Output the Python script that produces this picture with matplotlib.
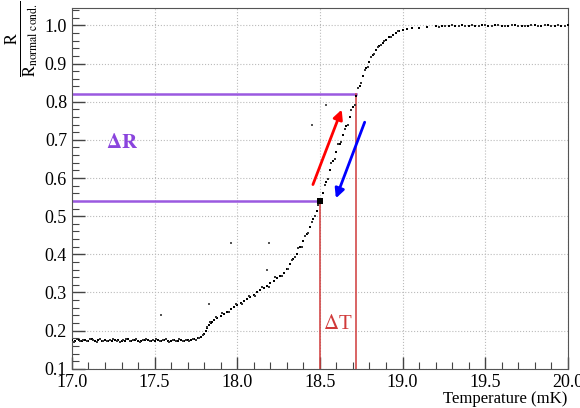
import matplotlib
matplotlib.use('Agg')
import matplotlib.pyplot as plt
from matplotlib.ticker import MultipleLocator

plt.rcParams['font.family'] = ['Liberation Serif', 'DejaVu Serif']
plt.rcParams['mathtext.fontset'] = 'stix'

# main sweep: low plateau, transition, upper plateau
temp_main = [17.00, 17.02, 17.04, 17.06, 17.08, 17.10, 17.12, 17.14, 17.16, 17.18,
             17.20, 17.22, 17.24, 17.26, 17.28, 17.30, 17.32, 17.34, 17.36, 17.38,
             17.40, 17.42, 17.44, 17.46, 17.48, 17.50, 17.52, 17.54, 17.56, 17.58,
             17.60, 17.62, 17.64, 17.66, 17.68, 17.70, 17.72, 17.74, 17.76,
             17.78, 17.80, 17.81, 17.82, 17.83, 17.84, 17.85, 17.86, 17.88, 17.90,
             17.92, 17.94, 17.96, 17.98, 18.00, 18.02, 18.04, 18.06, 18.08, 18.10,
             18.12, 18.14, 18.16, 18.18, 18.20, 18.22, 18.24, 18.26, 18.28, 18.30,
             18.32, 18.34, 18.36, 18.38, 18.40, 18.42, 18.44, 18.46, 18.48, 18.50,
             18.52, 18.54, 18.56, 18.58, 18.60, 18.62, 18.64, 18.66, 18.68, 18.70,
             18.72, 18.74, 18.76, 18.78, 18.80, 18.82, 18.84, 18.86, 18.88, 18.90,
             18.92, 18.94, 18.96, 18.98, 19.00, 19.03, 19.06, 19.10, 19.15, 19.20,
             19.24, 19.28, 19.32, 19.36, 19.40, 19.44, 19.48, 19.52, 19.56, 19.60,
             19.64, 19.68, 19.72, 19.76, 19.80, 19.84, 19.88, 19.92, 19.96, 20.00]
r_main = [0.175, 0.173, 0.176, 0.172, 0.175, 0.174, 0.177, 0.173, 0.175, 0.172,
          0.176, 0.174, 0.173, 0.176, 0.175, 0.172, 0.174, 0.177, 0.173, 0.175,
          0.174, 0.172, 0.176, 0.175, 0.173, 0.174, 0.176, 0.172, 0.175, 0.174,
          0.173, 0.176, 0.174, 0.175, 0.173, 0.176, 0.175, 0.178, 0.180,
          0.183, 0.192, 0.200, 0.208, 0.214, 0.220, 0.224, 0.228, 0.232, 0.238,
          0.244, 0.250, 0.256, 0.262, 0.268, 0.273, 0.278, 0.284, 0.289, 0.294,
          0.300, 0.306, 0.312, 0.318, 0.324, 0.330, 0.337, 0.344, 0.352, 0.362,
          0.374, 0.388, 0.402, 0.418, 0.434, 0.452, 0.472, 0.492, 0.514, 0.538,
          0.562, 0.590, 0.620, 0.645, 0.668, 0.690, 0.712, 0.736, 0.760, 0.786,
          0.814, 0.842, 0.866, 0.887, 0.905, 0.922, 0.935, 0.945, 0.954, 0.962,
          0.969, 0.975, 0.980, 0.984, 0.987, 0.990, 0.992, 0.994, 0.996, 0.997,
          0.998, 0.999, 0.998, 1.000, 0.999, 0.998, 1.000, 0.999, 1.000, 0.998,
          0.999, 1.000, 0.999, 0.998, 1.000, 0.999, 1.000, 0.999, 0.998, 1.000]

# second sweep (spread of the band)
temp_band = [17.01, 17.03, 17.05, 17.07, 17.09, 17.11, 17.13, 17.15, 17.17, 17.19,
             17.21, 17.23, 17.25, 17.27, 17.29, 17.31, 17.33, 17.35, 17.37, 17.39,
             17.41, 17.43, 17.45, 17.47, 17.49, 17.51, 17.53, 17.55, 17.57, 17.59,
             17.61, 17.63, 17.65, 17.67, 17.69, 17.71, 17.73, 17.75, 17.77,
             17.79, 17.815, 17.835, 17.87, 17.91, 17.95, 17.99, 18.03, 18.07, 18.11,
             18.15, 18.19, 18.23, 18.27, 18.31, 18.33, 18.35, 18.37, 18.39, 18.41,
             18.43, 18.45, 18.47, 18.49, 18.51, 18.53, 18.55, 18.57, 18.59, 18.61,
             18.63, 18.65, 18.67, 18.69, 18.71, 18.73, 18.75, 18.77, 18.79, 18.81,
             18.83, 18.85, 18.87, 18.89, 18.93, 18.97,
             19.22, 19.26, 19.30, 19.34, 19.38, 19.42, 19.46, 19.50, 19.54, 19.58,
             19.62, 19.66, 19.70, 19.74, 19.78, 19.82, 19.86, 19.90, 19.94, 19.98]
r_band = [0.171, 0.177, 0.174, 0.176, 0.172, 0.178, 0.175, 0.171, 0.177, 0.174,
          0.172, 0.176, 0.178, 0.173, 0.171, 0.176, 0.178, 0.172, 0.175, 0.177,
          0.171, 0.175, 0.178, 0.172, 0.176, 0.177, 0.173, 0.175, 0.178, 0.171,
          0.176, 0.172, 0.177, 0.173, 0.176, 0.172, 0.179, 0.176, 0.182,
          0.188, 0.210, 0.222, 0.235, 0.246, 0.250, 0.270, 0.271, 0.292, 0.290,
          0.315, 0.314, 0.340, 0.342, 0.362, 0.385, 0.392, 0.416, 0.420, 0.448,
          0.456, 0.486, 0.500, 0.530, 0.545, 0.582, 0.598, 0.640, 0.650, 0.688,
          0.695, 0.728, 0.740, 0.778, 0.792, 0.835, 0.848, 0.882, 0.890, 0.918,
          0.925, 0.944, 0.948, 0.960, 0.970, 0.984,
          0.996, 0.998, 1.000, 0.997, 0.999, 1.001, 0.998, 1.000, 0.999, 1.001,
          0.998, 1.000, 0.997, 0.999, 1.001, 0.998, 1.000, 0.999, 1.001, 0.999]

# stray points
temp_out = [17.54, 17.83, 17.96, 18.19, 18.18, 18.45, 18.54]
r_out = [0.24, 0.27, 0.43, 0.43, 0.36, 0.74, 0.79]

# transition markers
t_low, t_high = 18.50, 18.72
r_low, r_high = 0.54, 0.82

purple = '#9b59e0'
red = '#d03a3a'

fig = plt.figure(figsize=(5.8, 4.08), dpi=100)
ax = fig.add_axes([0.124, 0.096, 0.855, 0.884])

ax.scatter(temp_main, r_main, s=3.5, marker='s', c='black', lw=0, zorder=3)
ax.scatter(temp_band, r_band, s=3.0, marker='s', c='#333333', lw=0, zorder=3)
ax.scatter(temp_out, r_out, s=1.5, marker='s', c='#555555', lw=0, zorder=3)
ax.scatter([t_low], [r_low], s=14, marker='s', c='black', lw=0, zorder=4)

# delta R / delta T guides
ax.plot([17.0, t_high], [r_high, r_high], color=purple, lw=1.8, zorder=2)
ax.plot([17.0, t_low], [r_low, r_low], color=purple, lw=1.8, zorder=2)
ax.plot([t_low, t_low], [0.1, r_low], color=red, lw=1.1, zorder=2)
ax.plot([t_high, t_high], [0.1, r_high], color=red, lw=1.1, zorder=2)

ax.annotate('', xy=(18.638, 0.786), xytext=(18.452, 0.576),
            arrowprops=dict(arrowstyle='-|>', color='red', lw=2,
                            mutation_scale=14), zorder=5)
ax.annotate('', xy=(18.591, 0.540), xytext=(18.777, 0.753),
            arrowprops=dict(arrowstyle='-|>', color='blue', lw=2,
                            mutation_scale=14), zorder=5)

ax.text(17.30, 0.69, r'$\mathbf{\Delta R}$', color='#8a44dd', fontsize=15,
        ha='center', va='center')
ax.text(18.61, 0.215, r'$\Delta$T', color=red, fontsize=15,
        ha='center', va='center')

ax.set_xlim(17.0, 20.0)
ax.set_ylim(0.1, 1.045)
ax.xaxis.set_major_locator(MultipleLocator(0.5))
ax.xaxis.set_minor_locator(MultipleLocator(0.1))
ax.yaxis.set_major_locator(MultipleLocator(0.1))
ax.yaxis.set_minor_locator(MultipleLocator(0.02))
ax.set_xticks([17.0, 17.5, 18.0, 18.5, 19.0, 19.5, 20.0])
ax.set_xticklabels(['17.0', '17.5', '18.0', '18.5', '19.0', '19.5', '20.0'])
ax.set_yticks([0.1, 0.2, 0.3, 0.4, 0.5, 0.6, 0.7, 0.8, 0.9, 1.0])
ax.set_yticklabels(['0.1', '0.2', '0.3', '0.4', '0.5', '0.6', '0.7', '0.8', '0.9', '1.0'])
ax.tick_params(which='both', direction='in', top=False, right=False,
               labelsize=13, color='#444444')
ax.tick_params(which='major', length=9, width=1)
ax.tick_params(which='minor', length=5, width=0.8)
ax.tick_params(axis='x', pad=4)
ax.grid(True, which='major', ls=':', color='#bbbbbb', lw=0.8)
for sp in ax.spines.values():
    sp.set_color('#555555')

ax.set_xlabel('Temperature (mK)', fontsize=12, ha='right', x=1.0, labelpad=0)
fig.text(0.038, 0.905, r'$\frac{\mathrm{R}}{\mathrm{R}_{\mathrm{normal\ cond.}}}$',
         rotation=90, fontsize=17, ha='center', va='center')

fig.savefig('out.png', dpi=100)
